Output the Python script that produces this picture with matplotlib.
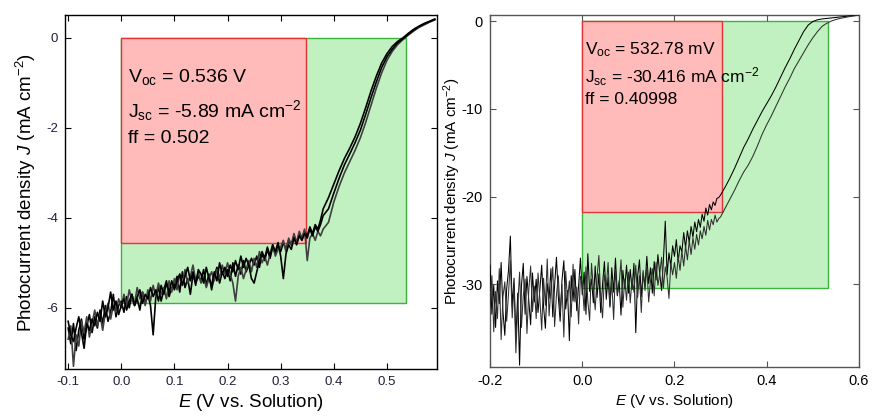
"""
J-E photocurrent curves with fill-factor rectangles (two panels)
"""
import matplotlib
matplotlib.use('Agg')
import matplotlib.pyplot as plt
from matplotlib.patches import Rectangle
import numpy as np

plt.rcParams['font.family'] = ['Liberation Sans', 'DejaVu Sans']
plt.rcParams['mathtext.fontset'] = 'custom'
plt.rcParams['mathtext.rm'] = 'Liberation Sans'
plt.rcParams['mathtext.it'] = 'Liberation Sans:italic'
plt.rcParams['axes.unicode_minus'] = False

# ---------------- left panel data ----------------
# sweep grid: noisy part -0.100..0.375 (5 mV), smooth part 0.38..0.59 (10 mV)
E_left = np.concatenate([np.round(np.arange(-0.100, 0.3751, 0.005), 3),
                         np.round(np.arange(0.38, 0.5901, 0.01), 2)])

J_left_1 = [
    -6.45, -6.80, -6.35, -6.95, -6.50, -6.25, -6.70, -6.40, -6.15, -6.55,
    -6.20, -6.45, -6.05, -6.35, -5.95, -6.30, -6.10, -5.70, -6.20, -5.95,
    -5.85, -6.10, -5.75, -6.00, -5.70, -5.95, -5.80, -6.05, -5.65, -5.90,
    -5.70, -5.95, -6.60, -5.75, -5.55, -5.85, -5.60, -5.40, -5.75, -5.55,
    -5.50, -5.30, -5.65, -5.20, -5.55, -5.35, -5.70, -5.25, -5.45, -5.30,
    -5.40, -5.15, -5.50, -5.25, -5.60, -5.30, -5.10, -5.45, -5.20, -5.35,
    -5.15, -5.40, -5.00, -5.30, -5.05, -5.25, -4.95, -5.20, -5.05, -4.90,
    -5.05, -4.85, -5.10, -4.80, -4.95, -4.70, -4.90, -4.65, -4.80, -4.60,
    -4.75, -4.55, -4.70, -4.50, -4.60, -4.40, -4.55, -4.35, -4.45, -4.30,
    -4.40, -4.20, -4.35, -4.15, -4.25, -4.05,
    -3.80, -3.55, -3.25, -2.95, -2.68, -2.45, -2.20, -1.90, -1.55, -1.18,
    -0.85, -0.56, -0.35, -0.19, -0.08, 0.00, 0.10, 0.19, 0.26, 0.32, 0.37, 0.42]

J_left_2 = [
    -6.70, -6.40, -7.30, -6.60, -6.85, -6.30, -6.55, -6.20, -6.65, -6.35,
    -6.05, -6.40, -6.15, -6.50, -6.10, -5.90, -6.25, -5.95, -6.10, -5.80,
    -6.00, -5.70, -5.95, -5.60, -5.85, -5.90, -5.55, -5.80, -5.65, -5.95,
    -5.60, -5.85, -5.50, -5.75, -5.45, -5.70, -5.55, -5.80, -5.40, -5.65,
    -5.35, -5.60, -5.25, -5.50, -5.15, -5.45, -5.30, -5.05, -5.40, -5.20,
    -5.45, -5.30, -5.55, -5.35, -5.20, -5.40, -5.15, -5.35, -5.05, -5.25,
    -5.00, -5.25, -5.45, -5.85, -5.30, -5.10, -5.35, -5.15, -4.95, -5.20,
    -4.90, -5.10, -4.75, -5.00, -4.85, -5.05, -4.80, -4.60, -4.85, -4.70,
    -4.65, -4.50, -4.75, -4.45, -4.60, -4.35, -4.55, -4.30, -4.45, -4.25,
    -4.95, -4.45, -4.35, -4.50, -4.30, -4.40,
    -4.25, -4.10, -3.65, -3.30, -3.00, -2.75, -2.50, -2.22, -1.88, -1.50,
    -1.12, -0.78, -0.50, -0.30, -0.15, -0.04, 0.06, 0.15, 0.23, 0.29, 0.35, 0.40]

J_left_3 = [
    -6.30, -6.60, -6.75, -6.45, -6.20, -6.55, -6.90, -6.35, -6.50, -6.25,
    -6.40, -6.10, -6.30, -5.85, -6.20, -6.00, -5.65, -6.05, -5.85, -6.15,
    -5.95, -5.80, -6.05, -5.85, -5.70, -5.95, -5.75, -5.60, -5.90, -5.70,
    -5.80, -5.55, -5.75, -5.60, -5.85, -5.50, -5.70, -5.45, -5.65, -5.40,
    -5.60, -5.40, -5.25, -5.50, -5.30, -5.10, -5.40, -5.20, -5.50, -5.15,
    -5.25, -5.45, -5.10, -5.35, -5.50, -5.20, -5.40, -5.00, -5.25, -5.10,
    -5.30, -5.05, -5.20, -4.95, -5.15, -4.85, -5.10, -4.90, -5.05, -5.35,
    -5.45, -5.20, -4.95, -4.75, -4.90, -4.65, -4.85, -4.60, -4.75, -4.55,
    -4.85, -5.35, -4.80, -4.60, -4.70, -4.45, -4.60, -4.40, -4.50, -4.35,
    -4.45, -4.25, -4.40, -4.20, -4.30, -4.15,
    -3.95, -3.80, -3.45, -3.12, -2.82, -2.58, -2.33, -2.05, -1.70, -1.33,
    -0.98, -0.66, -0.42, -0.25, -0.11, -0.02, 0.08, 0.17, 0.25, 0.31, 0.36, 0.41]

voc_left, jsc_left, ff_left = 0.536, -5.89, 0.502
vmp_left, jmp_left = 0.347, -4.56

# ---------------- right panel data ----------------
E_right = np.concatenate([np.round(np.arange(-0.200, 0.2961, 0.004), 3),
                          np.round(np.arange(0.30, 0.6001, 0.01), 2)])

J_right_1 = [
    -27.8, -33.4, -30.1, -34.9, -29.6, -32.2, -27.5, -33.1, -35.8, -30.5,
    -28.4, -24.5, -32.6, -29.3, -36.1, -31.0, -39.2, -30.2, -27.6, -33.4,
    -29.1, -31.8, -34.6, -28.7, -32.0,
    -29.4, -33.2, -30.6, -27.8, -32.5, -35.0, -29.9, -31.6, -28.2, -33.7,
    -30.1, -26.9, -31.4, -34.2, -29.5, -27.3, -32.8, -30.7, -36.4, -29.0,
    -31.9, -28.3, -33.0, -30.2, -27.0,
    -31.2, -28.6, -33.4, -26.5, -30.8, -29.4, -32.1, -27.9, -31.5, -28.8,
    -33.2, -30.0, -27.4, -31.7, -29.2, -32.6, -28.1, -30.9, -27.0, -31.3,
    -29.6, -33.5, -28.4, -30.5, -27.8,
    -31.0, -28.3, -30.6, -27.6, -35.5, -29.1, -27.2, -31.4, -28.7, -30.2,
    -26.8, -29.9, -28.1, -31.0, -27.4, -29.5, -26.6, -28.8, -30.7, -27.2,
    -22.8, -28.9, -26.4, -27.9, -25.6,
    -26.8, -24.9, -27.4, -25.6, -26.3, -24.1, -25.8, -23.9, -25.2, -23.4,
    -24.6, -22.9, -24.0, -22.6, -23.5, -22.0, -22.8, -21.3, -22.1, -20.9,
    -21.5, -20.6, -21.0, -20.2, -20.1,
    -19.8, -18.9, -17.9, -16.8, -15.6, -14.4, -13.4, -12.3, -11.3, -10.3,
    -9.4, -8.5, -7.5, -6.4, -5.3, -4.3, -3.2, -2.2, -1.2, -0.45,
    -0.05, 0.15, 0.25, 0.30, 0.36, 0.42, 0.48, 0.54, 0.60, 0.65, 0.70]

J_right_2 = [
    -32.6, -29.0, -35.4, -30.8, -33.9, -28.2, -36.3, -31.4, -29.7, -34.2,
    -31.1, -27.3, -33.8, -30.0, -37.8, -32.5, -28.6, -34.9, -31.3, -29.4,
    -35.6, -30.7, -27.9, -33.1, -30.2,
    -33.9, -28.7, -31.6, -35.2, -29.3, -32.4, -27.1, -33.6, -30.5, -28.0,
    -34.8, -31.2, -29.0, -33.3, -30.0, -36.0, -28.5, -31.8, -29.6, -33.7,
    -27.7, -32.0, -30.3, -34.5, -29.1,
    -29.8, -33.0, -28.0, -31.9, -34.1, -27.6, -30.4, -32.9, -29.2, -26.7,
    -31.6, -33.8, -28.9, -30.3, -27.5, -32.4, -29.7, -34.0, -28.3, -31.1,
    -30.0, -27.2, -32.6, -29.4, -31.8,
    -28.6, -32.1, -29.3, -30.9, -27.8, -31.5, -29.0, -33.2, -28.4, -30.7,
    -27.9, -32.0, -29.6, -28.2, -31.3, -27.5, -30.1, -28.8, -26.9, -30.4,
    -28.0, -29.2, -31.6, -27.6, -28.9,
    -27.5, -29.3, -26.8, -28.4, -26.2, -27.9, -25.6, -27.2, -25.0, -26.6,
    -24.7, -26.0, -24.3, -25.5, -23.9, -24.8, -23.4, -24.4, -22.7, -23.8,
    -22.6, -23.2, -22.1, -22.9, -22.5,
    -22.3, -21.3, -20.3, -19.3, -18.2, -17.2, -16.4, -15.4, -14.2, -12.9,
    -11.8, -10.8, -9.7, -8.6, -7.5, -6.5, -5.4, -4.5, -3.6, -2.7,
    -1.9, -1.2, -0.6, -0.25, 0.0, 0.18, 0.32, 0.42, 0.52, 0.60, 0.68]

voc_right, jsc_right, ff_right = 0.53278, -30.416, 0.40998
vmp_right, jmp_right = 0.304, -21.8

left_xticks = [-0.1, 0.0, 0.1, 0.2, 0.3, 0.4, 0.5]
left_yticks = [-6, -4, -2, 0]
right_xticks = [-0.2, 0.0, 0.2, 0.4, 0.6]
right_yticks = [-30, -20, -10, 0]

RED_FILL, RED_EDGE = '#ffbaba', '#e03535'
GREEN_FILL, GREEN_EDGE = '#c1f1c1', '#3cb43c'

fig = plt.figure(figsize=(8.72, 4.16), dpi=100)


def draw_boxes(ax, voc, jsc, vmp, jmp, lw):
    ax.add_patch(Rectangle((0, jsc), voc, -jsc, facecolor=GREEN_FILL,
                           edgecolor=GREEN_EDGE, linewidth=lw, zorder=1))
    ax.add_patch(Rectangle((0, jmp), vmp, -jmp, facecolor=RED_FILL,
                           edgecolor=RED_EDGE, linewidth=lw, zorder=2))


def style_axes(ax, tick_size, tick_color, spine_color):
    ax.tick_params(direction='in', top=True, right=True, length=4,
                   width=0.8, labelsize=tick_size, labelcolor=tick_color,
                   color=spine_color, pad=5)
    for s in ax.spines.values():
        s.set_color(spine_color)
        s.set_linewidth(1.0)


# ---- left ----
ax1 = fig.add_axes([0.0745, 0.113, 0.4265, 0.851])
draw_boxes(ax1, voc_left, jsc_left, vmp_left, jmp_left, 1.0)
ax1.plot(E_left, J_left_1, color='black', lw=1.2, zorder=3)
ax1.plot(E_left, J_left_2, color='#404040', lw=1.2, zorder=3)
ax1.plot(E_left, J_left_3, color='black', lw=1.2, zorder=3)
ax1.set_xlim(-0.106, 0.594)
ax1.set_ylim(-7.36, 0.51)
ax1.set_xticks(left_xticks)
ax1.set_xticklabels([f'{v:.1f}' for v in left_xticks])
ax1.set_yticks(left_yticks)
style_axes(ax1, 9.5, '#20203c', 'black')
ax1.set_xlabel(r'$\mathit{E}$ (V vs. Solution)', fontsize=13.5, labelpad=3)
ax1.set_ylabel(r'Photocurrent density $\mathit{J}$ (mA cm$^{-2}$)', fontsize=13.5)
ax1.yaxis.set_label_coords(-0.073, 0.5)
ax1.text(0.013, -0.97, r'V$_{\mathrm{oc}}$ = %.3f V' % voc_left, fontsize=14, va='baseline', zorder=4)
ax1.text(0.013, -1.75, r'J$_{\mathrm{sc}}$ = %.2f mA cm$^{-2}$' % jsc_left, fontsize=14, va='baseline', zorder=4)
ax1.text(0.013, -2.33, 'ff = %.3f' % ff_left, fontsize=14, va='baseline', zorder=4)

# ---- right ----
ax2 = fig.add_axes([0.562, 0.118, 0.423, 0.846])
draw_boxes(ax2, voc_right, jsc_right, vmp_right, jmp_right, 1.0)
ax2.plot(E_right, J_right_1, color='black', lw=0.75, zorder=3)
ax2.plot(E_right, J_right_2, color='#303030', lw=0.75, zorder=3)
ax2.set_xlim(-0.2, 0.6)
ax2.set_ylim(-39.4, 0.7)
ax2.set_xticks(right_xticks)
ax2.set_xticklabels([f'{v:.1f}' for v in right_xticks])
ax2.set_yticks(right_yticks)
style_axes(ax2, 10.5, 'black', '#555555')
ax2.set_xlabel(r'$\mathit{E}$ (V vs. Solution)', fontsize=11, labelpad=3)
ax2.set_ylabel(r'Photocurrent density $\mathit{J}$ (mA cm$^{-2}$)', fontsize=11)
ax2.yaxis.set_label_coords(-0.073, 0.5)
ax2.text(0.0065, -3.8, r'V$_{\mathrm{oc}}$ = %.2f mV' % (voc_right * 1000), fontsize=12.5, va='baseline', zorder=4)
ax2.text(0.0065, -7.0, r'J$_{\mathrm{sc}}$ = %.3f mA cm$^{-2}$' % jsc_right, fontsize=12.5, va='baseline', zorder=4)
ax2.text(0.0065, -9.4, 'ff = %.5f' % ff_right, fontsize=12.5, va='baseline', zorder=4)

plt.savefig('out.png', dpi=100)
plt.close()
